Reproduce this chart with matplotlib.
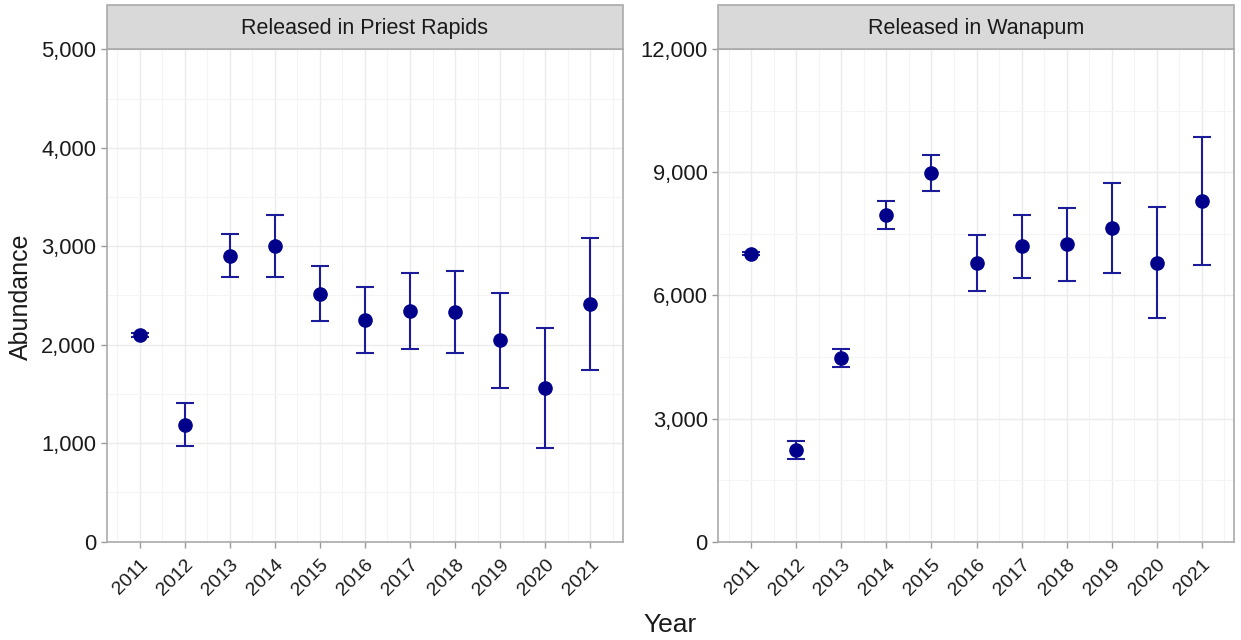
import matplotlib.pyplot as plt
from matplotlib.patches import Rectangle
from matplotlib.ticker import FuncFormatter, MultipleLocator

plt.rcParams['font.family'] = ['Liberation Sans', 'DejaVu Sans']

years = [2011, 2012, 2013, 2014, 2015, 2016, 2017, 2018, 2019, 2020, 2021]

# Priest Rapids release group
pr_est = [2100, 1190, 2905, 3005, 2520, 2250, 2345, 2335, 2045, 1565, 2410]
pr_lo = [2080, 972, 2685, 2685, 2245, 1913, 1955, 1920, 1558, 955, 1745]
pr_hi = [2120, 1412, 3120, 3315, 2803, 2583, 2725, 2750, 2522, 2167, 3080]

# Wanapum release group
wa_est = [7020, 2235, 4470, 7960, 8995, 6800, 7205, 7255, 7650, 6800, 8300]
wa_lo = [6985, 2025, 4250, 7630, 8545, 6110, 6435, 6360, 6550, 5460, 6745]
wa_hi = [7055, 2455, 4690, 8305, 9425, 7480, 7960, 8140, 8735, 8165, 9855]

panels = [
    ('Released in Priest Rapids', pr_est, pr_lo, pr_hi, 5000, 1000, 500),
    ('Released in Wanapum', wa_est, wa_lo, wa_hi, 12000, 3000, 1500),
]

fig = plt.figure(figsize=(12.41, 6.4), dpi=100)
axes = [fig.add_axes([0.086, 0.1536, 0.4158, 0.7694]),
        fig.add_axes([0.5788, 0.1536, 0.4158, 0.7694])]

for ax, (title, est, lo, hi, ymax, major, minor) in zip(axes, panels):
    yerr = [[e - l for e, l in zip(est, lo)], [h - e for e, h in zip(est, hi)]]
    ax.errorbar(years, est, yerr=yerr, fmt='none', ecolor='#1c1c9a',
                elinewidth=1.5, capsize=6.3, capthick=1.5, zorder=3)
    ax.plot(years, est, 'o', color='#00008b', markersize=9.5, zorder=4)

    ax.set_xlim(2010.27, 2021.72)
    ax.set_ylim(0, ymax)
    ax.set_xticks(years)
    ax.set_xticklabels([str(y) for y in years], rotation=45, ha='right',
                       va='top', rotation_mode='anchor', fontsize=14)
    ax.xaxis.set_minor_locator(MultipleLocator(0.5))
    ax.yaxis.set_major_locator(MultipleLocator(major))
    ax.yaxis.set_minor_locator(MultipleLocator(minor))
    ax.yaxis.set_major_formatter(FuncFormatter(lambda v, p: f'{int(v):,}'))

    ax.grid(which='major', color='#ebebeb', linewidth=1.0, zorder=0)
    ax.grid(which='minor', color='#f4f4f4', linewidth=0.8, zorder=0)
    ax.set_axisbelow(True)
    ax.tick_params(which='major', length=4.5, width=1.0, color='#999999',
                   labelcolor='#1a1a1a')
    ax.tick_params(axis='x', which='major', pad=6)
    ax.tick_params(axis='y', which='major', labelsize=15.8, pad=3)
    ax.tick_params(which='minor', length=0)
    for s in ax.spines.values():
        s.set_color('#aaaaaa')
        s.set_linewidth(1.2)

    # facet strip above the panel
    ax.add_patch(Rectangle((0, 1.0), 1, 0.09, transform=ax.transAxes,
                           facecolor='#d9d9d9', edgecolor='#aaaaaa',
                           linewidth=1.2, clip_on=False, zorder=5))
    ax.text(0.5, 1.043, title, transform=ax.transAxes, ha='center',
            va='center', fontsize=15.5, color='#1a1a1a', zorder=6)

fig.text(0.017, 0.537, 'Abundance', rotation=90, ha='center', va='center',
         fontsize=18, color='#1a1a1a')
fig.text(0.540, 0.024, 'Year', ha='center', va='center', fontsize=19,
         color='#1a1a1a')

fig.savefig('out.png', dpi=100)
